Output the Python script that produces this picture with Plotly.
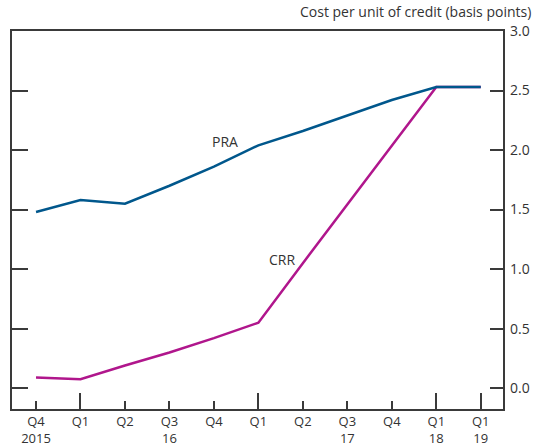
import plotly.graph_objects as go

tick_labels = ["Q4<br>2015", "Q1", "Q2", "Q3<br>16", "Q4", "Q1", "Q2", "Q3<br>17", "Q4", "Q1<br>18", "Q1<br>19"]
positions = list(range(len(tick_labels)))
pra = [1.48, 1.58, 1.55, 1.70, 1.86, 2.04, 2.16, 2.29, 2.42, 2.53, 2.53]
crr = [0.09, 0.075, 0.19, 0.30, 0.42, 0.55, 1.05, 1.54, 2.03, 2.53, 2.53]
major_positions = [1, 5, 9, 10]
y_ticks = [0, 0.5, 1.0, 1.5, 2.0, 2.5, 3.0]

BLUE = "#00578c"
MAGENTA = "#b0168c"
AX = "#3a3a3a"
FONT = "Open Sans, Noto Sans, sans-serif"

fig = go.Figure()
fig.add_trace(go.Scatter(x=positions, y=crr, mode="lines", line=dict(color=MAGENTA, width=2.5), showlegend=False))
fig.add_trace(go.Scatter(x=positions, y=pra, mode="lines", line=dict(color=BLUE, width=2.5), showlegend=False))

yr = [-0.175, 3.0]
xr = [-0.54, 10.5]
fig.update_layout(
    width=537, height=448,
    margin=dict(l=12, r=34, t=31, b=39, autoexpand=False),
    paper_bgcolor="white", plot_bgcolor="white",
    font=dict(family=FONT, size=14, color="#333333"),
    xaxis=dict(range=xr, tickmode="array", tickvals=positions, ticktext=tick_labels,
               tickfont=dict(size=13),
               ticks="inside", ticklen=8, tickwidth=1.5, tickcolor=AX, automargin=False,
               showline=True, linecolor=AX, linewidth=1.5, mirror=True,
               showgrid=False, zeroline=False, fixedrange=True),
    xaxis2=dict(range=xr, overlaying="x", side="bottom", anchor="y", tickmode="array",
                tickvals=major_positions, ticks="inside", ticklen=16, tickwidth=1.5, tickcolor=AX,
                showticklabels=False, showline=False, showgrid=False, zeroline=False, automargin=False),
    yaxis=dict(range=yr, tickmode="array", tickvals=y_ticks, showticklabels=False,
               ticks="inside", ticklen=16, tickwidth=1.5, tickcolor=AX, automargin=False,
               showline=True, linecolor=AX, linewidth=1.5, mirror=True,
               showgrid=False, zeroline=False),
    yaxis2=dict(range=yr, overlaying="y", side="right", anchor="x", tickmode="array",
                tickvals=y_ticks, ticktext=[f"{v:.1f}" for v in y_ticks],
                ticks="inside", ticklen=13, tickwidth=1.5, tickcolor=AX, automargin=False,
                ticklabelstandoff=6,
                showline=False, showgrid=False, zeroline=False),
)
fig.add_trace(go.Scatter(x=[None], y=[None], xaxis="x2", yaxis="y2", showlegend=False, hoverinfo="skip"))

fig.add_annotation(text="Cost per unit of credit (basis points)", xref="paper", yref="paper",
                   x=1.061, y=1.052, xanchor="right", yanchor="middle", showarrow=False,
                   font=dict(size=14, color="#333333"))
fig.add_annotation(text="PRA", x=4.25, y=2.07, showarrow=False, font=dict(size=14, color="#333333"))
fig.add_annotation(text="CRR", x=5.52, y=1.08, showarrow=False, font=dict(size=14, color="#333333"))

fig.write_html("out.html", config={"displayModeBar": False},
               post_script="document.body.style.margin='0';document.body.style.overflow='hidden';")
